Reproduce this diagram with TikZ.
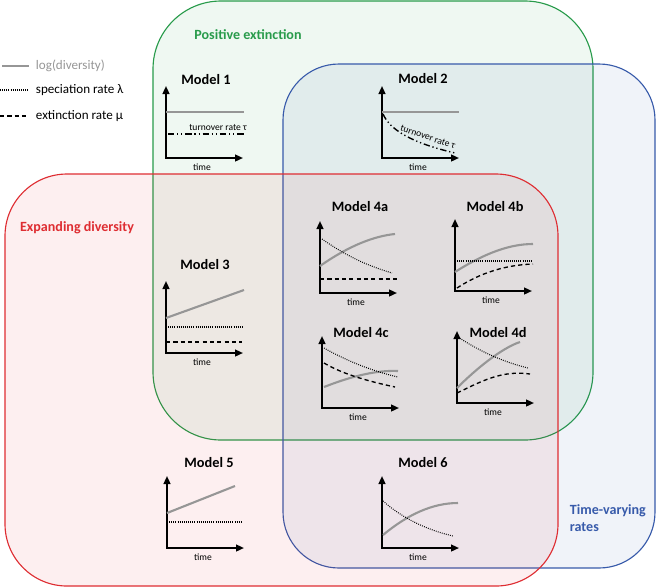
\documentclass[tikz,border=0pt]{standalone}
\usepackage{fontspec}
\setmainfont{Carlito}
\usepackage{tikz}
\usetikzlibrary{arrows.meta}

\definecolor{extgreen}{RGB}{40,155,75}
\definecolor{divred}{RGB}{222,45,50}
\definecolor{rateblue}{RGB}{55,90,170}
\definecolor{divgray}{RGB}{150,150,150}

\begin{document}
\begin{tikzpicture}[
  x=0.025cm, y=-0.025cm,
  region/.style={line width=0.8pt, fill opacity=0.075},
  settitle/.style={font=\bfseries\fontsize{10}{12}\selectfont},
  model/.style={font=\bfseries\fontsize{10.2}{12}\selectfont},
  small/.style={font=\fontsize{6.8}{8}\selectfont},
  legend/.style={font=\fontsize{9.3}{11}\selectfont, anchor=west},
  axisline/.style={line width=1.3pt,
    {Triangle[length=2mm,width=1.7mm]}-{Triangle[length=2mm,width=1.7mm]}},
  logdiv/.style={line width=1.5pt, divgray},
  spec/.style={line width=0.75pt, dash pattern=on 0.6pt off 0.9pt},
  extinct/.style={line width=0.95pt, dash pattern=on 3pt off 2.2pt},
  turnover/.style={line width=1pt, dash pattern=on 4.5pt off 2pt on 0.9pt off 2pt on 0.9pt off 2pt},
  plotaxes/.pic={
    \draw[axisline] (0,-72) -- (0,0) -- (77,0);
    \node[small] (-time) at (36,9) {time};
  }
]
  \useasboundingbox (0,0) rectangle (656,587);

  % the three sets
  \draw[region, extgreen, fill=extgreen, rounded corners=1.7cm] (153,1) rectangle (593,440);
  \draw[region, rateblue, fill=rateblue, rounded corners=1.4cm] (283,64) rectangle (655,568);
  \draw[region, divred, fill=divred, rounded corners=1.55cm] (5,174) rectangle (558,586);

  \node[settitle, text=extgreen] (poslbl) at (248,35) {Positive extinction};
  \node[settitle, text=divred] (explbl) at (77,228) {Expanding diversity};
  \node[settitle, text=rateblue, align=left, anchor=west] (tvlbl) at (565,518) {Time-varying\\rates};

  % legend
  \draw[logdiv] (2,66) -- (29,66);
  \node[legend, text=divgray] (leglog) at (31,66) {log(diversity)};
  \draw[spec] (0,90) -- (28,90);
  \node[legend] (legspec) at (31,90) {speciation rate λ};
  \draw[extinct] (0,116) -- (28,116);
  \node[legend] (legext) at (31,116) {extinction rate μ};

  % Model 1
  \node[model] (m1title) at (206,80) {Model 1};
  \pic (m1) at (166,158) {plotaxes};
  \begin{scope}[shift={(166,158)}]
    \draw[logdiv] (0,-46) -- (78,-46);
    \draw[turnover] (2,-24) -- (80,-24);
    \node[small] (m1tau) at (52,-30) {turnover rate τ};
  \end{scope}

  % Model 2
  \node[model] (m2title) at (423,79) {Model 2};
  \pic (m2) at (382,158) {plotaxes};
  \begin{scope}[shift={(382,158)}]
    \draw[logdiv] (0,-46) -- (77,-46);
    \draw[turnover] (1,-44) .. controls (8,-28) and (30,-15) .. (73,-5);
    \node[small, rotate=-19] (m2tau) at (46,-21) {turnover rate τ};
  \end{scope}

  % Model 3
  \node[model] (m3title) at (205,265) {Model 3};
  \pic (m3) at (166,353) {plotaxes};
  \begin{scope}[shift={(166,353)}]
    \draw[logdiv] (0,-35) -- (78,-63);
    \draw[spec] (0,-26) -- (76,-26);
    \draw[extinct] (0,-11) -- (76,-11);
  \end{scope}

  % Model 4a
  \node[model] (m4atitle) at (360,207) {Model 4a};
  \pic (m4a) at (320,293) {plotaxes};
  \begin{scope}[shift={(320,293)}]
    \draw[logdiv] (0,-27) .. controls (30,-48) and (55,-57) .. (75,-59);
    \draw[spec] (2,-54) .. controls (25,-38) and (45,-28) .. (72,-20);
    \draw[extinct] (0,-14) -- (78,-14);
  \end{scope}

  % Model 4b
  \node[model] (m4btitle) at (495,207) {Model 4b};
  \pic (m4b) at (455,291) {plotaxes};
  \begin{scope}[shift={(455,291)}]
    \draw[logdiv] (0,-19) .. controls (30,-38) and (55,-47) .. (78,-47);
    \draw[spec] (0,-30) -- (78,-30);
    \draw[extinct] (2,-3) .. controls (25,-18) and (50,-26) .. (78,-27);
  \end{scope}

  % Model 4c
  \node[model] (m4ctitle) at (361,333) {Model 4c};
  \pic (m4c) at (322,408) {plotaxes};
  \begin{scope}[shift={(322,408)}]
    \draw[logdiv] (2,-21) .. controls (30,-32) and (55,-38) .. (76,-37);
    \draw[spec] (2,-60) .. controls (25,-47) and (50,-37) .. (76,-31);
    \draw[extinct] (2,-45) .. controls (22,-33) and (50,-26) .. (73,-21);
  \end{scope}

  % Model 4d
  \node[model] (m4dtitle) at (498,333) {Model 4d};
  \pic (m4d) at (457,403) {plotaxes};
  \begin{scope}[shift={(457,403)}]
    \draw[logdiv] (0,-15) .. controls (20,-35) and (45,-55) .. (63,-61);
    \draw[spec] (1,-66) .. controls (25,-50) and (50,-40) .. (71,-35);
    \draw[extinct] (0,-10) .. controls (25,-22) and (45,-33) .. (73,-29);
  \end{scope}

  % Model 5
  \node[model] (m5title) at (209,463) {Model 5};
  \pic (m5) at (167,548) {plotaxes};
  \begin{scope}[shift={(167,548)}]
    \draw[logdiv] (0,-35) -- (68,-62);
    \draw[spec] (0,-26) -- (75,-26);
  \end{scope}

  % Model 6
  \node[model] (m6title) at (423,463) {Model 6};
  \pic (m6) at (382,548) {plotaxes};
  \begin{scope}[shift={(382,548)}]
    \draw[logdiv] (1,-13) .. controls (25,-33) and (50,-45) .. (76,-45);
    \draw[spec] (1,-47) .. controls (20,-30) and (45,-18) .. (71,-12);
  \end{scope}
\end{tikzpicture}
\end{document}
